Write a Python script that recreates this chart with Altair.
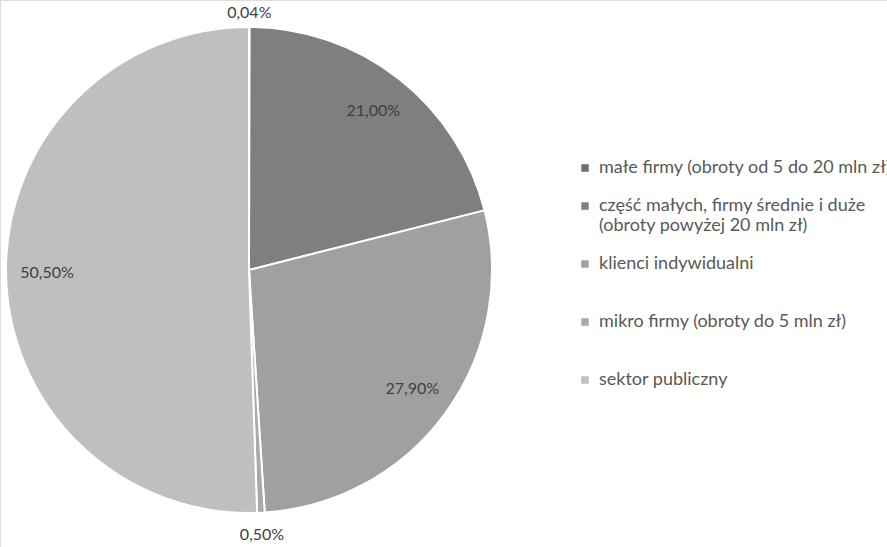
import altair as alt
import pandas as pd

categories = [
    "małe firmy (obroty od 5 do 20 mln zł)",
    "część małych, firmy średnie i duże|(obroty powyżej 20 mln zł)",
    "klienci indywidualni| ",
    "mikro firmy (obroty do 5 mln zł)| ",
    "sektor publiczny",
]
values = [0.04, 21.00, 27.90, 0.50, 50.50]
labels = ["0,04%", "21,00%", "27,90%", "0,50%", "50,50%"]
colors = ["#6e6e6e", "#7f7f7f", "#a0a0a0", "#a9a9a9", "#bfbfbf"]

df = pd.DataFrame({
    "cat": categories,
    "value": values,
    "label": labels,
    "idx": list(range(len(categories))),
})

arcs = alt.Chart(df).mark_arc(stroke="white", strokeWidth=2).encode(
    theta=alt.Theta("value:Q", stack=True),
    order=alt.Order("idx:Q"),
    x=alt.value(249),
    y=alt.value(270),
    radius=alt.value(243),
    color=alt.Color(
        "cat:N",
        sort=categories,
        scale=alt.Scale(domain=categories, range=colors),
        legend=alt.Legend(
            title=None,
            orient="none",
            legendX=576,
            legendY=159,
            symbolType="square",
            symbolSize=56,
            symbolStrokeWidth=0,
            labelFont="Lato",
            labelFontSize=18,
            labelColor="#595959",
            labelLimit=0,
            labelOffset=5,
            rowPadding=20,
            labelExpr="split(datum.label, '|')",
        ),
    ),
)

texts = alt.Chart(df).mark_text(font="Lato", fontSize=16, color="#404040").transform_joinaggregate(
    total="sum(value)"
).transform_window(
    cum="sum(value)", sort=[alt.SortField("idx")], frame=[None, 0]
).transform_calculate(
    mid="2 * PI * (datum.cum - datum.value / 2) / datum.total",
    r="datum.value < 0.1 ? 257 : (datum.value < 1 ? 265 : 202)",
).encode(
    theta=alt.Theta("mid:Q", scale=None, stack=None),
    radius=alt.Radius("r:Q", scale=None),
    x=alt.value(249),
    y=alt.value(270),
    text="label:N",
)

chart = alt.layer(arcs, texts).properties(
    width=887,
    height=547,
    autosize=alt.AutoSizeParams(type="none"),
    padding=0,
).configure_view(stroke=None).configure(background="white")

chart.save("out.html", embed_options={"renderer": "svg", "actions": False})
